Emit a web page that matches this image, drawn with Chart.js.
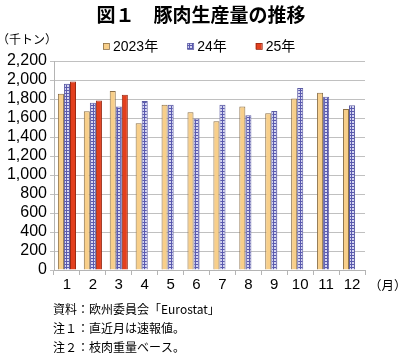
<!DOCTYPE html>
<html>
<head>
<meta charset="utf-8">
<script src="https://cdn.jsdelivr.net/npm/chart.js@4.4.1/dist/chart.umd.min.js"></script>
<style>
  body { margin: 0; background: #fff; }
  #wrap { position: relative; width: 400px; height: 353px; }
</style>
</head>
<body>
<div id="wrap"><canvas id="myChart" width="400" height="353"></canvas></div>
<script>
// datos
const meses = ['1', '2', '3', '4', '5', '6', '7', '8', '9', '10', '11', '12'];
const anio2023 = [1855, 1670, 1885, 1545, 1740, 1660, 1565, 1720, 1650, 1805, 1865, 1695];
const anio2024 = [1960, 1760, 1720, 1780, 1740, 1595, 1740, 1630, 1675, 1915, 1825, 1735];
const anio2025 = [1985, 1785, 1845, null, null, null, null, null, null, null, null, null];
const nombres = ['2023年', '24年', '25年'];
const notas = ['資料：欧州委員会「Eurostat」', '注１：直近月は速報値。', '注２：枝肉重量ベース。'];

const jp = "'Noto Sans CJK JP', sans-serif";
const num = "'Liberation Sans', 'Noto Sans CJK JP', sans-serif";

function patron_azul() {
    var c = document.createElement('canvas');
    c.width = 3;
    c.height = 3;
    var g = c.getContext('2d');
    g.fillStyle = '#d6d6f2';
    g.fillRect(0, 0, 3, 3);
    g.fillStyle = '#5a5aae';
    g.fillRect(0, 0, 3, 1);
    g.fillRect(0, 0, 1, 3);
    return g.createPattern(c, 'repeat');
}

// titulo, leyenda, unidad, mes y notas
const textos = {
    id: 'textos',
    afterDraw(chart) {
        const ctx = chart.ctx;
        ctx.save();
        ctx.fillStyle = '#000';
        ctx.textBaseline = 'middle';

        ctx.textAlign = 'center';
        ctx.font = 'bold 19px ' + jp;
        ctx.fillText('図１　豚肉生産量の推移', 201, 15);

        ctx.textAlign = 'left';
        ctx.font = '12px ' + jp;
        ctx.fillText('（千トン）', -3, 39);

        // leyenda
        ctx.font = '14px ' + num;
        var x = 103;
        var ds = chart.data.datasets;
        for (var i = 0; i < ds.length; i++) {
            ctx.fillStyle = ds[i].backgroundColor;
            ctx.fillRect(x, 43, 6, 6);
            ctx.strokeStyle = ds[i].borderColor;
            ctx.lineWidth = 0.8;
            ctx.strokeRect(x + 0.5, 43.5, 6, 6);
            ctx.fillStyle = '#000';
            ctx.fillText(ds[i].label, x + 10, 47);
            x = x + 10 + ctx.measureText(ds[i].label).width + 29;
        }

        ctx.font = '12.5px ' + jp;
        ctx.fillText('（月）', 369, 285);

        ctx.font = '12px ' + jp;
        for (var j = 0; j < notas.length; j++) {
            ctx.fillText(notas[j], 53, 309 + j * 19);
        }
        ctx.restore();
    }
};

const data = {
    labels: meses,
    datasets: [{
        label: nombres[0],
        data: anio2023,
        backgroundColor: '#f8cf8a',
        borderColor: '#8c7048',
        borderWidth: 1
    }, {
        label: nombres[1],
        data: anio2024,
        backgroundColor: patron_azul(),
        borderColor: '#5c5ca4',
        borderWidth: 1
    }, {
        label: nombres[2],
        data: anio2025,
        backgroundColor: '#e3401e',
        borderColor: '#9a2a14',
        borderWidth: 1
    }]
};

const config = {
    type: 'bar',
    data: data,
    options: {
        responsive: false,
        animation: false,
        categoryPercentage: 0.7,
        barPercentage: 1.0,
        layout: { padding: { left: 0, right: 35, top: 61, bottom: 58 } },
        plugins: {
            title: { display: false },
            legend: { display: false },
            tooltip: { enabled: false }
        },
        scales: {
            x: {
                grid: { drawOnChartArea: false, drawTicks: true, tickLength: 5, color: '#b4b4b4' },
                border: { color: '#b4b4b4' },
                ticks: { color: '#000', font: { family: num, size: 15 }, padding: 1 },
                afterFit(scale) { scale.height = 25; }
            },
            y: {
                min: 0,
                max: 2200,
                ticks: {
                    stepSize: 200,
                    autoSkip: false,
                    color: '#000',
                    font: { family: num, size: 16 },
                    padding: 3,
                    callback: function (v) { return v.toLocaleString('en-US'); }
                },
                grid: { color: '#c0c0c0', tickLength: 4 },
                border: { color: '#b4b4b4' },
                afterFit(scale) { scale.width = 54; }
            }
        }
    },
    plugins: [textos]
};

const myChart = new Chart(document.getElementById('myChart'), config);
</script>
</body>
</html>
